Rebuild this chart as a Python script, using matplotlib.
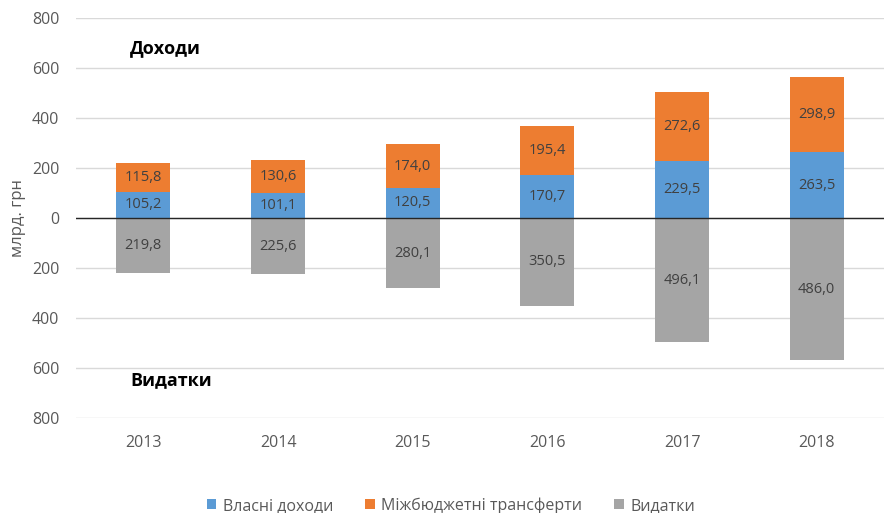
import numpy as np
import matplotlib
matplotlib.use("Agg")
import matplotlib.pyplot as plt
from matplotlib.ticker import FixedLocator, FuncFormatter

plt.rcParams['font.family'] = ['Open Sans', 'DejaVu Sans']

years = ['2013', '2014', '2015', '2016', '2017', '2018']
own_income = [105.2, 101.1, 120.5, 170.7, 229.5, 263.5]
transfers = [115.8, 130.6, 174.0, 195.4, 272.6, 298.9]
# bar lengths as drawn (the 2018 bar is drawn longer than its label says)
expenses = [219.8, 225.6, 280.1, 350.5, 497.0, 568.0]
expense_labels = ['219,8', '225,6', '280,1', '350,5', '496,1', '486,0']

series_names = ['Власні доходи', 'Міжбюджетні трансферти', 'Видатки']
yticks = [-800, -600, -400, -200, 0, 200, 400, 600, 800]

c_blue = '#5B9BD5'
c_orange = '#ED7D31'
c_gray = '#A5A5A5'
txt = '#404040'
tick_col = '#595959'

fig = plt.figure(figsize=(8.84, 5.13), dpi=100)
ax = fig.add_axes([0.086, 0.185, 0.914, 0.78])

x = np.arange(len(years))
w = 0.4
own = np.array(own_income)
tr = np.array(transfers)
ex = -np.array(expenses)

b1 = ax.bar(x, own, w, color=c_blue, label=series_names[0], zorder=3)
b2 = ax.bar(x, tr, w, bottom=own, color=c_orange, label=series_names[1], zorder=3)
b3 = ax.bar(x, ex, w, color=c_gray, label=series_names[2], zorder=3)

def fmt(v):
    return f'{v:.1f}'.replace('.', ',')

for i in range(len(years)):
    ax.text(x[i], own[i] / 2, fmt(own_income[i]), ha='center', va='center',
            fontsize=10.5, color=txt, zorder=4)
    ax.text(x[i], own[i] + tr[i] / 2, fmt(transfers[i]), ha='center', va='center',
            fontsize=10.5, color=txt, zorder=4)
    ax.text(x[i], ex[i] / 2, expense_labels[i], ha='center', va='center',
            fontsize=10.5, color=txt, zorder=4)

ax.axhline(0, color='#262626', lw=1, zorder=5)

ax.set_xlim(-0.5, len(years) - 0.5)
ax.set_ylim(-800, 800)
ax.yaxis.set_major_locator(FixedLocator(yticks))
ax.yaxis.set_major_formatter(FuncFormatter(lambda v, p: f'{abs(int(v))}'))
ax.set_xticks(x)
ax.set_xticklabels(years)
ax.grid(axis='y', color='#D9D9D9', lw=1, zorder=0)
ax.tick_params(axis='both', length=0, labelsize=11.5, labelcolor=tick_col)
ax.tick_params(axis='y', pad=12)
ax.tick_params(axis='x', pad=12)
for s in ax.spines.values():
    s.set_visible(False)

ax.set_ylabel('млрд. грн', fontsize=12, color=tick_col, labelpad=4)

ax.text(-0.1, 680, 'Доходи', fontsize=13, fontweight='bold', color='black',
        ha='left', va='center')
ax.text(-0.1, -650, 'Видатки', fontsize=13, fontweight='bold', color='black',
        ha='left', va='center')

fig.legend(handles=[b1, b2, b3], labels=series_names, loc='lower center',
           bbox_to_anchor=(0.51, -0.03), ncol=3, frameon=False, fontsize=11.5,
           handlelength=0.6, handleheight=0.6, handletextpad=0.4,
           columnspacing=2.0, labelcolor=tick_col)

fig.savefig('out.png', dpi=100)
